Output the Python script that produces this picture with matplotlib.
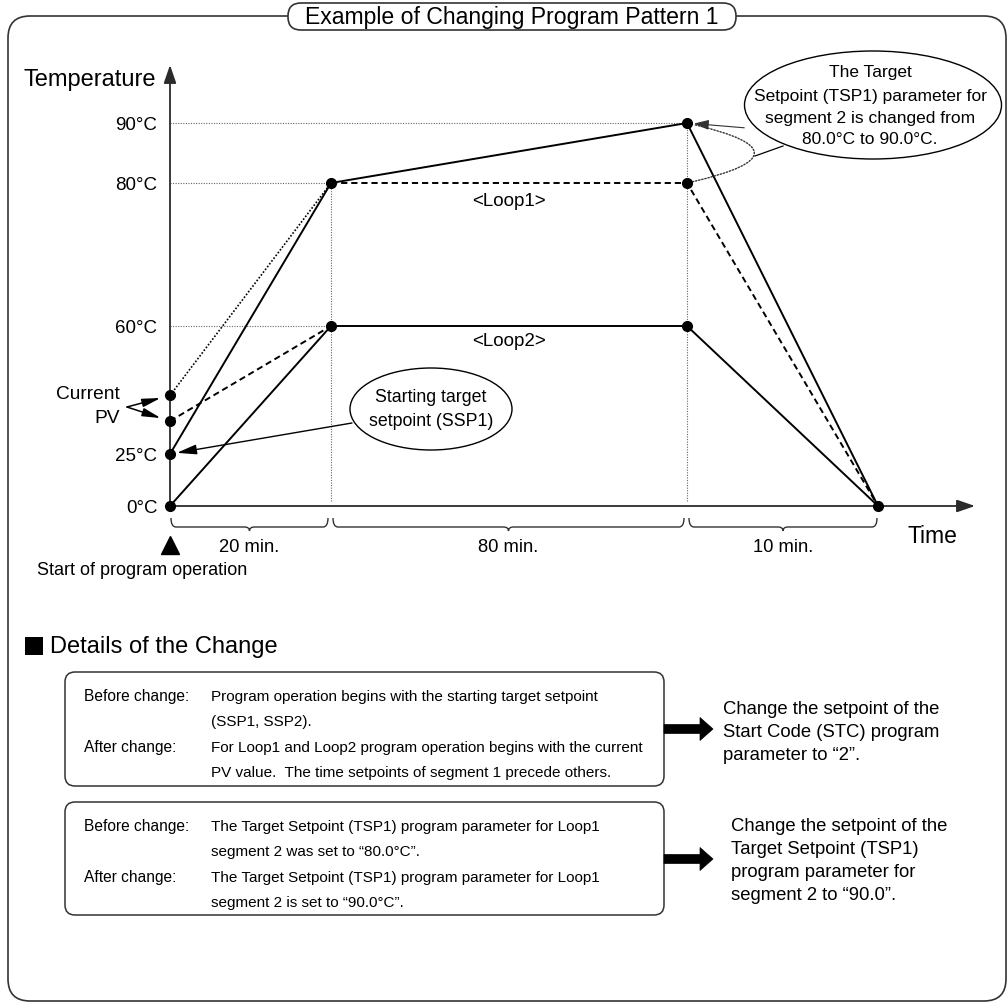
import numpy as np
import matplotlib
matplotlib.use("Agg")
import matplotlib.pyplot as plt
import matplotlib.patches as mpatches
import matplotlib.transforms as mtransforms
from matplotlib.path import Path

plt.rcParams['font.family'] = ['Liberation Sans', 'DejaVu Sans']

# ---------------- data ----------------
segment_minutes = [20, 80, 10]
segment_labels = ["20 min.", "80 min.", "10 min."]
time_points = [0, 20, 100, 110]
temp_ticks = [0, 25, 60, 80, 90]
temp_tick_labels = ["0°C", "25°C", "60°C", "80°C", "90°C"]
pv_loop1 = 41          # current PV, loop 1 (unlabelled, schematic)
pv_loop2 = 34          # current PV, loop 2
ssp_loop1 = 25
ssp_loop2 = 0

# Loop 1
loop1_seg1_ssp_t, loop1_seg1_ssp_T = [0, 20], [ssp_loop1, 80]
loop1_seg1_pv_t, loop1_seg1_pv_T = [0, 20], [pv_loop1, 80]
loop1_after_t, loop1_after_T = [20, 100, 110], [80, 90, 0]
loop1_before_t, loop1_before_T = [20, 100, 110], [80, 80, 0]
# Loop 2
loop2_seg1_ssp_t, loop2_seg1_ssp_T = [0, 20], [ssp_loop2, 60]
loop2_seg1_pv_t, loop2_seg1_pv_T = [0, 20], [pv_loop2, 60]
loop2_t, loop2_T = [20, 100, 110], [60, 60, 0]

dots_t = [0, 0, 0, 0, 20, 20, 100, 100, 100, 110]
dots_T = [0, 25, pv_loop2, pv_loop1, 80, 60, 90, 80, 60, 0]

# --------------- schematic (non-uniform) axis scales ---------------
X_DATA = [0, 20, 100, 110, 115]
X_PIX = [170, 331, 687, 878, 975]
Y_DATA = [0, 25, 60, 80, 90, 100]
Y_PIX_TOP = [507, 455, 327, 184, 124, 66]
W, H = 1008, 1004
Y_PIX = [H - p for p in Y_PIX_TOP]


def fx(v):
    return np.interp(v, X_DATA, X_PIX)


def ifx(v):
    return np.interp(v, X_PIX, X_DATA)


def fy(v):
    return np.interp(v, Y_DATA, Y_PIX)


def ify(v):
    return np.interp(v, Y_PIX, Y_DATA)


fig = plt.figure(figsize=(W / 100, H / 100), dpi=100)

# overlay axes in pixel coordinates (y down)
ov = fig.add_axes([0, 0, 1, 1], zorder=0)
ov.set_xlim(0, W)
ov.set_ylim(H, 0)
ov.axis('off')

# chart axes
ax = fig.add_axes([X_PIX[0] / W, Y_PIX[0] / H, (X_PIX[-1] - X_PIX[0]) / W,
                   (Y_PIX[-1] - Y_PIX[0]) / H], zorder=2)
ax.set_facecolor('none')
ax.set_xscale('function', functions=(fx, ifx))
ax.set_yscale('function', functions=(fy, ify))
ax.set_xlim(X_DATA[0], X_DATA[-1])
ax.set_ylim(Y_DATA[0], Y_DATA[-1])
for s in ax.spines.values():
    s.set_visible(False)
ax.set_xticks([])
ax.set_yticks(temp_ticks, temp_tick_labels, fontsize=13.5)
ax.tick_params(axis='y', length=0, pad=9)
ax.minorticks_off()

# axis arrows
ax_col = '#2b2b2b'
ap = dict(arrowstyle='-|>,head_length=1.1,head_width=0.38', color=ax_col,
          lw=1.3, mutation_scale=10, shrinkA=0, shrinkB=0)
ax.annotate('', xy=(1, 0), xytext=(0, 0), xycoords='axes fraction',
            textcoords='axes fraction', arrowprops=ap)
ax.annotate('', xy=(0, 1), xytext=(0, 0), xycoords='axes fraction',
            textcoords='axes fraction', arrowprops=ap)

# reference dotted lines
ref = dict(color='#666666', lw=0.8, ls=(0, (1, 1.3)), zorder=1)
ax.plot([0, 100], [90, 90], **ref)
ax.plot([0, 20], [80, 80], **ref)
ax.plot([0, 20], [60, 60], **ref)
ax.plot([20, 20], [2.5, 80], **ref)
ax.plot([100, 100], [2.5, 90], **ref)

# program lines
solid = dict(color='black', lw=1.4, zorder=3)
dashed = dict(color='black', lw=1.4, ls=(0, (3.2, 2.0)), zorder=3)
dotted = dict(color='black', lw=1.2, ls=(0, (1, 1.1)), zorder=3)
ax.plot(loop1_seg1_ssp_t, loop1_seg1_ssp_T, **solid)
ax.plot(loop1_seg1_pv_t, loop1_seg1_pv_T, **dotted)
ax.plot(loop1_after_t, loop1_after_T, **solid)
ax.plot(loop1_before_t, loop1_before_T, **dashed)
ax.plot(loop2_seg1_ssp_t, loop2_seg1_ssp_T, **solid)
ax.plot(loop2_seg1_pv_t, loop2_seg1_pv_T, **dashed)
ax.plot(loop2_t, loop2_T, **solid)
ax.plot(dots_t, dots_T, 'o', color='black', ms=7, zorder=5, clip_on=False)

# curved dotted arrow 80 -> 90 at t=100
curve = mpatches.FancyArrowPatch((100, 80), (100, 90), connectionstyle='arc3,rad=2.25',
                                 arrowstyle='-', lw=1.0, ls=(0, (1, 1.3)), color='#333333',
                                 shrinkA=4, shrinkB=5, zorder=4)
ax.add_patch(curve)
head = mpatches.FancyArrowPatch((103, 89.2), (100, 90), arrowstyle='-|>,head_length=0.9,head_width=0.3',
                                mutation_scale=10, lw=0.8, color='#333333', shrinkA=0, shrinkB=5, zorder=4)
ax.add_patch(head)

# ------------- text / callouts -------------
ov.text(156, 80, "Temperature", fontsize=17, ha='right', va='center')
ov.text(932, 537, "Time", fontsize=16.5, ha='center', va='center')
ov.text(509, 201, "<Loop1>", fontsize=13.5, ha='center', va='center')
ov.text(509, 342, "<Loop2>", fontsize=13.5, ha='center', va='center')

# Current PV
ov.text(120, 395, "Current", fontsize=13.8, ha='right', va='center')
ov.text(120, 419, "PV", fontsize=13.8, ha='right', va='center')
for pv in (pv_loop1, pv_loop2):
    ax.annotate('', xy=(0, pv), xytext=(127, 408), textcoords=ov.transData,
                arrowprops=dict(arrowstyle='-|>,head_length=1.1,head_width=0.25', mutation_scale=10,
                                lw=1.1, color='black', shrinkA=0, shrinkB=7), zorder=6)

# SSP ellipse
ov.add_patch(mpatches.Ellipse((431, 410), 162, 82, fc='white', ec='black', lw=1.0, zorder=1))
ov.text(431, 398, "Starting target", fontsize=12.8, ha='center', va='center', zorder=2)
ov.text(431, 422, "setpoint (SSP1)", fontsize=12.8, ha='center', va='center', zorder=2)
ax.annotate('', xy=(0, ssp_loop1), xytext=(352, 424), textcoords=ov.transData,
            arrowprops=dict(arrowstyle='-|>,head_length=1.2,head_width=0.3', mutation_scale=10,
                            lw=1.0, color='black', shrinkA=0, shrinkB=5), zorder=6)

# TSP ellipse
ov.add_patch(mpatches.Ellipse((873, 106), 257, 108, fc='white', ec='black', lw=1.0, zorder=1))
for yy, s in zip([72, 96, 118, 140], ["The Target", "Setpoint (TSP1) parameter for",
                                      "segment 2 is changed from", "80.0°C to 90.0°C."]):
    ov.text(870, yy, s, fontsize=12.5, ha='center', va='center', zorder=2)
ov.plot([755, 783], [157, 147], color='black', lw=0.9, zorder=1)

# braces and segment labels
bounds = np.cumsum([0] + segment_minutes)
trans = ax.transData


def to_ov(t):
    return trans.transform((t, 0))[0]


for i in range(len(segment_minutes)):
    x0 = to_ov(bounds[i]) + (2 if i > 0 else 1)
    x1 = to_ov(bounds[i + 1]) - (3 if i < len(segment_minutes) - 1 else 1)
    xm = (x0 + x1) / 2
    top, bot, tip, r = 519, 528, 532, 5
    verts = [(x0, top), (x0, bot), (x0 + r, bot), (xm - r, bot), (xm, bot), (xm, tip),
             (xm, bot), (xm + r, bot), (x1 - r, bot), (x1, bot), (x1, top)]
    codes = [Path.MOVETO, Path.CURVE3, Path.CURVE3, Path.LINETO, Path.CURVE3, Path.CURVE3,
             Path.CURVE3, Path.CURVE3, Path.LINETO, Path.CURVE3, Path.CURVE3]
    ov.add_patch(mpatches.PathPatch(Path(verts, codes), fc='none', ec='#333333', lw=1.0))
    ov.text(xm, 548, segment_labels[i], fontsize=13.2, ha='center', va='center')

# start triangle
tri_tr = mtransforms.blended_transform_factory(ax.transData, ov.transData)
ax.plot([time_points[0]], [546], marker='^', ms=13, color='black', clip_on=False, transform=tri_tr)
ov.text(142, 571, "Start of program operation", fontsize=13, ha='center', va='center')

# title and frame
frame = mpatches.FancyBboxPatch((8, 17), 998, 985, boxstyle='round,pad=0,rounding_size=22',
                                fc='none', ec='#333333', lw=1.2, zorder=0)
ov.add_patch(frame)
pill = mpatches.FancyBboxPatch((288, 4), 448, 27, boxstyle='round,pad=0,rounding_size=13',
                               fc='white', ec='#333333', lw=1.2, zorder=1)
ov.add_patch(pill)
ov.text(512, 17.5, "Example of Changing Program Pattern 1", fontsize=16.6, ha='center', va='center', zorder=2)

# details
ov.add_patch(mpatches.Rectangle((25, 638), 18, 18, fc='black', ec='none'))
ov.text(50, 647, "Details of the Change", fontsize=17, ha='left', va='center')

box_rows = [
    [("Before change:", "Program operation begins with the starting target setpoint"),
     ("", "(SSP1, SSP2)."),
     ("After change:", "For Loop1 and Loop2 program operation begins with the current"),
     ("", "PV value.  The time setpoints of segment 1 precede others.")],
    [("Before change:", "The Target Setpoint (TSP1) program parameter for Loop1"),
     ("", "segment 2 was set to “80.0°C”."),
     ("After change:", "The Target Setpoint (TSP1) program parameter for Loop1"),
     ("", "segment 2 is set to “90.0°C”.")],
]
right_texts = [
    ["Change the setpoint of the", "Start Code (STC) program", "parameter to “2”."],
    ["Change the setpoint of the", "Target Setpoint (TSP1)", "program parameter for", "segment 2 to “90.0”."],
]
box_tops = [673, 803]
box_bots = [787, 916]
arrow_ys = [730, 860]
right_x = [723, 731]
right_y0 = [710, 827]
for k in range(2):
    ov.add_patch(mpatches.FancyBboxPatch((65, box_tops[k]), 599, box_bots[k] - box_tops[k],
                                         boxstyle='round,pad=0,rounding_size=10',
                                         fc='none', ec='#333333', lw=1.1))
    for j, (lab, txt) in enumerate(box_rows[k]):
        yy = box_tops[k] + 24 + j * 25.5
        if lab:
            ov.text(84, yy, lab, fontsize=11.2, ha='left', va='center')
        ov.text(211, yy, txt, fontsize=11.0, ha='left', va='center')
    ov.add_patch(mpatches.FancyArrow(664, arrow_ys[k], 49, 0, width=9, head_width=23,
                                     head_length=13, length_includes_head=True,
                                     fc='black', ec='black', lw=0.5))
    for j, s in enumerate(right_texts[k]):
        ov.text(right_x[k], right_y0[k] + j * 22.7, s, fontsize=13.3, ha='left', va='center')

fig.savefig('out.png', dpi=100)
